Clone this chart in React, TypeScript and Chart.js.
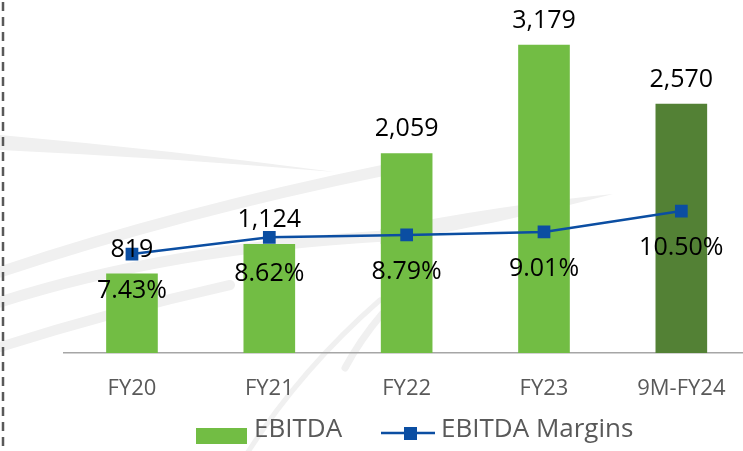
import React, { useEffect, useRef } from "react";
import { Chart, registerables } from "chart.js";

Chart.register(...registerables);

const categories = ["FY20", "FY21", "FY22", "FY23", "9M-FY24"];
const ebitda = [819, 1124, 2059, 3179, 2570];
const margins = [7.43, 8.62, 8.79, 9.01, 10.5];
const ebitdaLabels = ["819", "1,124", "2,059", "3,179", "2,570"];
const marginLabels = ["7.43%", "8.62%", "8.79%", "9.01%", "10.50%"];
const barColors = ["#72BD44", "#72BD44", "#72BD44", "#72BD44", "#538135"];
const legendNames = ["EBITDA", "EBITDA Margins"];

const FONT = '"Open Sans", "DejaVu Sans", sans-serif';
const LINE_COLOR = "#0B4EA2";
const WATERMARK = "#F0F0F0";

function drawWatermark(ctx: CanvasRenderingContext2D) {
  ctx.save();
  ctx.fillStyle = WATERMARK;
  ctx.strokeStyle = WATERMARK;
  ctx.lineCap = "round";
  // upper tapered wedge
  ctx.beginPath();
  ctx.moveTo(0, 135);
  ctx.quadraticCurveTo(170, 150, 335, 172);
  ctx.quadraticCurveTo(170, 158, 0, 150);
  ctx.closePath();
  ctx.fill();
  // swoosh bands from lower-left
  ctx.lineWidth = 11;
  ctx.beginPath();
  ctx.moveTo(0, 272);
  ctx.quadraticCurveTo(180, 212, 385, 170);
  ctx.stroke();
  ctx.beginPath();
  ctx.moveTo(0, 302);
  ctx.quadraticCurveTo(170, 248, 385, 236);
  ctx.stroke();
  // tapering wedge to the right
  ctx.beginPath();
  ctx.moveTo(380, 229);
  ctx.quadraticCurveTo(500, 205, 613, 194);
  ctx.quadraticCurveTo(500, 224, 380, 244);
  ctx.closePath();
  ctx.fill();
  ctx.lineWidth = 10;
  ctx.beginPath();
  ctx.moveTo(0, 347);
  ctx.quadraticCurveTo(110, 312, 230, 285);
  ctx.stroke();
  // diagonal strokes
  ctx.lineWidth = 5;
  ctx.beginPath();
  ctx.moveTo(246, 455);
  ctx.quadraticCurveTo(300, 370, 380, 300);
  ctx.stroke();
  ctx.lineWidth = 7;
  ctx.beginPath();
  ctx.moveTo(345, 368);
  ctx.quadraticCurveTo(360, 340, 382, 314);
  ctx.stroke();
  ctx.restore();
}

const decorPlugin = {
  id: "decor",
  beforeDraw(chart: any) {
    const ctx = chart.ctx;
    ctx.save();
    ctx.fillStyle = "#ffffff";
    ctx.fillRect(0, 0, chart.width, chart.height);
    ctx.restore();
    drawWatermark(ctx);
  },
  afterDraw(chart: any) {
    const ctx = chart.ctx;
    ctx.save();
    // dashed vertical rule at left
    ctx.strokeStyle = "#595959";
    ctx.lineWidth = 2.5;
    ctx.setLineDash([9, 6]);
    ctx.beginPath();
    ctx.moveTo(3, 2);
    ctx.lineTo(3, chart.height);
    ctx.stroke();
    ctx.setLineDash([]);

    // legend
    ctx.fillStyle = "#72BD44";
    ctx.fillRect(196, 428, 51, 16);
    ctx.fillStyle = "#595959";
    ctx.font = `26px ${FONT}`;
    ctx.textBaseline = "alphabetic";
    ctx.textAlign = "left";
    ctx.fillText(legendNames[0], 254, 437);
    ctx.strokeStyle = LINE_COLOR;
    ctx.lineWidth = 2.5;
    ctx.beginPath();
    ctx.moveTo(381, 433);
    ctx.lineTo(435, 433);
    ctx.stroke();
    ctx.fillStyle = LINE_COLOR;
    ctx.fillRect(404, 427, 13, 13);
    ctx.fillStyle = "#595959";
    ctx.fillText(legendNames[1], 441, 437);
    ctx.restore();
  },
  afterDatasetsDraw(chart: any) {
    const ctx = chart.ctx;
    ctx.save();
    ctx.fillStyle = "#000000";
    ctx.font = `25px ${FONT}`;
    ctx.textAlign = "center";
    ctx.textBaseline = "alphabetic";
    const barMeta = chart.getDatasetMeta(0);
    barMeta.data.forEach((el: any, i: number) => {
      ctx.fillText(ebitdaLabels[i], el.x, el.y - 17);
    });
    const lineMeta = chart.getDatasetMeta(1);
    lineMeta.data.forEach((el: any, i: number) => {
      ctx.fillText(marginLabels[i], el.x, el.y + 44);
    });
    ctx.restore();
  },
};

export default function App() {
  const ref = useRef<HTMLCanvasElement>(null);
  useEffect(() => {
    if (!ref.current) return;
    const chart = new Chart(ref.current, {
      type: "bar",
      data: {
        labels: categories,
        datasets: [
          {
            type: "bar",
            label: legendNames[0],
            data: ebitda,
            backgroundColor: barColors,
            yAxisID: "y",
            order: 1,
            categoryPercentage: 1,
            barPercentage: 0.376,
          },
          {
            type: "line",
            label: legendNames[1],
            data: margins,
            borderColor: LINE_COLOR,
            backgroundColor: LINE_COLOR,
            borderWidth: 2.5,
            pointStyle: "rect",
            pointRadius: 9,
            pointBorderWidth: 0,
            pointBackgroundColor: LINE_COLOR,
            tension: 0,
            yAxisID: "y2",
            order: 0,
          },
        ],
      },
      options: {
        responsive: false,
        animation: false,
        devicePixelRatio: 1,
        layout: { padding: { left: 63.3, right: 0, top: 8, bottom: 25.6 } },
        plugins: {
          legend: { display: false },
          tooltip: { enabled: false },
        },
        scales: {
          x: {
            grid: { display: false, drawTicks: false },
            border: { display: true, color: "#A6A6A6", width: 1.5 },
            ticks: {
              color: "#595959",
              font: { family: FONT, size: 22 },
              padding: 23,
            },
          },
          y: {
            display: false,
            min: 0,
            max: 3548,
          },
          y2: {
            display: false,
            min: 0.36,
            max: 24.93,
          },
        },
      },
      plugins: [decorPlugin],
    });
    return () => chart.destroy();
  }, []);
  return (
    <div
      style={{
        position: "absolute",
        left: 0,
        top: 0,
        width: 743,
        height: 451,
        overflow: "hidden",
      }}
    >
      <canvas ref={ref} width={759} height={451} style={{ width: 759, height: 451, display: "block" }} />
    </div>
  );
}
